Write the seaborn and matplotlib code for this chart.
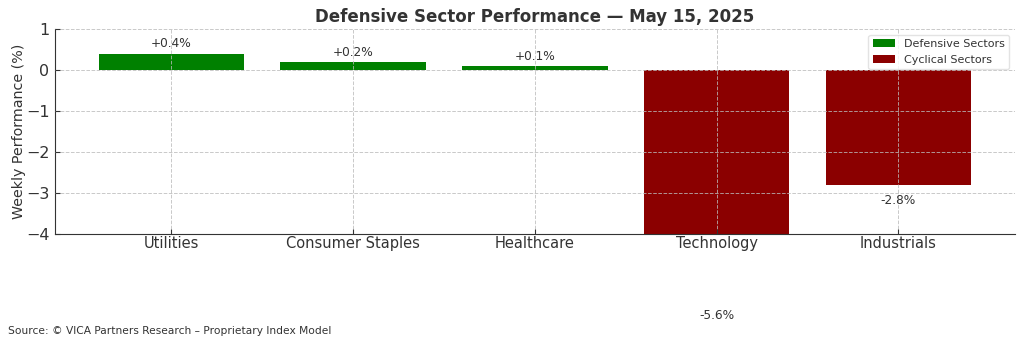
import matplotlib
matplotlib.use("Agg")
import matplotlib.pyplot as plt
import seaborn as sns
import pandas as pd

sectors = ["Utilities", "Consumer Staples", "Healthcare", "Technology", "Industrials"]
values = [0.4, 0.2, 0.1, -5.6, -2.8]
groups = ["Defensive Sectors", "Defensive Sectors", "Defensive Sectors", "Cyclical Sectors", "Cyclical Sectors"]
labels = ["+0.4%", "+0.2%", "+0.1%", "-5.6%", "-2.8%"]
palette = {"Defensive Sectors": "green", "Cyclical Sectors": "darkred"}

sns.set_style("ticks")
plt.rcParams["font.family"] = ["DejaVu Sans"]
dark = "#333333"
plt.rcParams.update({
    "text.color": dark, "axes.labelcolor": dark,
    "xtick.color": dark, "ytick.color": dark, "axes.edgecolor": dark,
})

df = pd.DataFrame({"Sector": sectors, "Value": values, "Group": groups})

fig = plt.figure(figsize=(10.24, 3.46), dpi=100)
ax = fig.add_axes([0.0537, 0.3237, 0.9373, 0.5923])
sns.barplot(data=df, x="Sector", y="Value", hue="Group", palette=palette,
            dodge=False, width=0.8, ax=ax, saturation=1, linewidth=0)

ax.set_xlim(-0.64, len(sectors) - 1 + 0.64)
ax.set_ylim(-4, 1)
ax.set_yticks([-4, -3, -2, -1, 0, 1])
ax.set_yticklabels(["\u22124", "\u22123", "\u22122", "\u22121", "0", "1"])
ax.grid(True, linestyle="--", color="#bbbbbb", linewidth=0.7, alpha=0.8)
ax.set_axisbelow(False)
for s in ["top", "right"]:
    ax.spines[s].set_visible(False)
ax.tick_params(axis="x", labelsize=10.5, direction="in", pad=1.5)
ax.tick_params(axis="y", labelsize=11.5, direction="in", pad=4)
ax.set_xlabel("")
ax.set_ylabel("Weekly Performance (%)", fontsize=10.3, labelpad=0)
ax.set_title("Defensive Sector Performance \u2014 May 15, 2025", fontsize=12,
             fontweight="bold", color=dark, pad=5)

for i, (v, t) in enumerate(zip(values, labels)):
    if v >= 0:
        ax.text(i, v + 0.08, t, ha="center", va="bottom", fontsize=8.7, color=dark, clip_on=False)
    else:
        ax.text(i, v - 0.22, t, ha="center", va="top", fontsize=8.7, color=dark, clip_on=False)

leg = ax.legend(loc="upper right", fontsize=8, frameon=True, title=None)
leg.get_frame().set_edgecolor("#dddddd")

fig.text(0.008, 0.03, "Source: \u00a9 VICA Partners Research \u2013 Proprietary Index Model",
         fontsize=7.7, color=dark, ha="left", va="bottom")

fig.savefig("out.png", dpi=100)
